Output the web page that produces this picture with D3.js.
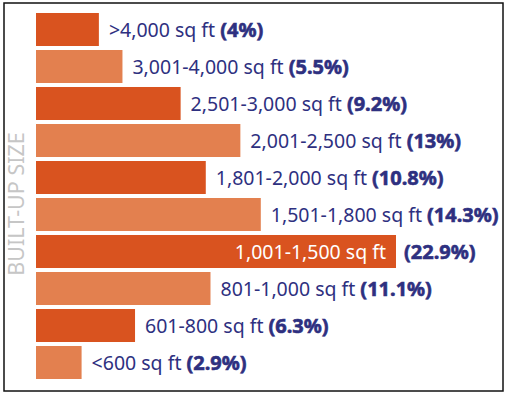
<!DOCTYPE html>
<html>
<head>
<meta charset="utf-8">
<script src="https://cdn.jsdelivr.net/npm/d3@7"></script>
<style>
  body { margin: 0; background: #fff; }
  #chart { width: 510px; height: 395px; }
  .lbl { font-family: "Noto Sans", sans-serif; font-size: 19.5px; }
  .pct { font-weight: 700; font-size: 20px; stroke-width: 0.6px; }
</style>
</head>
<body>
<div id="chart"></div>
<script>
// data
const sizes = [">4,000 sq ft", "3,001-4,000 sq ft", "2,501-3,000 sq ft", "2,001-2,500 sq ft",
  "1,801-2,000 sq ft", "1,501-1,800 sq ft", "1,001-1,500 sq ft", "801-1,000 sq ft",
  "601-800 sq ft", "<600 sq ft"];
const shares = [4, 5.5, 9.2, 13, 10.8, 14.3, 22.9, 11.1, 6.3, 2.9];
const shareLabels = ["4%", "5.5%", "9.2%", "13%", "10.8%", "14.3%", "22.9%", "11.1%", "6.3%", "2.9%"];

const width = 510, height = 395;
const margin = {top: 11, left: 36, right: 14, bottom: 14};

const svg = d3.select("#chart").append("svg")
    .attr("width", width)
    .attr("height", height);

// frame
svg.append("rect")
    .attr("x", 4).attr("y", 3)
    .attr("width", 499).attr("height", 388)
    .attr("fill", "none")
    .attr("stroke", "#111")
    .attr("stroke-width", 1.5);

const rows = sizes.map(function(s, i) {
    return {size: s, share: shares[i], pct: shareLabels[i], i: i};
});

const xScale = d3.scaleLinear()
    .domain([0, 25])
    .range([margin.left, margin.left + 393]);

const yScale = d3.scaleBand()
    .domain(sizes)
    .range([margin.top, margin.top + 370])
    .paddingInner(0.108)
    .paddingOuter(0.054);

const dark = "#d9531f", light = "#e3804f", navy = "#2e3080";

svg.selectAll("rect.bar")
    .data(rows)
    .enter()
    .append("rect")
        .attr("class", "bar")
        .attr("x", xScale(0))
        .attr("y", function(d) { return yScale(d.size); })
        .attr("width", function(d) { return xScale(d.share) - xScale(0); })
        .attr("height", yScale.bandwidth())
        .attr("fill", function(d) { return d.i % 2 === 0 ? dark : light; });

// labels: the biggest bar holds its label inside
const maxShare = d3.max(shares);

rows.forEach(function(d) {
    const yMid = yScale(d.size) + yScale.bandwidth() / 2 + 7;
    const end = xScale(d.share);
    if (d.share === maxShare) {
        svg.append("text")
            .attr("class", "lbl")
            .attr("x", end - 10)
            .attr("y", yMid)
            .attr("text-anchor", "end")
            .attr("fill", "#fff")
            .text(d.size);
        svg.append("text")
            .attr("class", "lbl pct")
            .attr("x", end + 8)
            .attr("y", yMid)
            .attr("fill", navy)
            .attr("stroke", navy)
            .text("(" + d.pct + ")");
    } else {
        const t = svg.append("text")
            .attr("class", "lbl")
            .attr("x", end + 10)
            .attr("y", yMid)
            .attr("fill", navy);
        t.append("tspan").text(d.size + " ");
        t.append("tspan").attr("class", "pct").attr("stroke", navy).text("(" + d.pct + ")");
    }
});

// axis title
svg.append("text")
    .attr("class", "lbl")
    .attr("transform", "rotate(-90)")
    .attr("x", -204)
    .attr("y", 24)
    .attr("text-anchor", "middle")
    .style("font-size", "21.5px")
    .attr("fill", "#c6c6c6")
    .text("BUILT-UP SIZE");
</script>
</body>
</html>
